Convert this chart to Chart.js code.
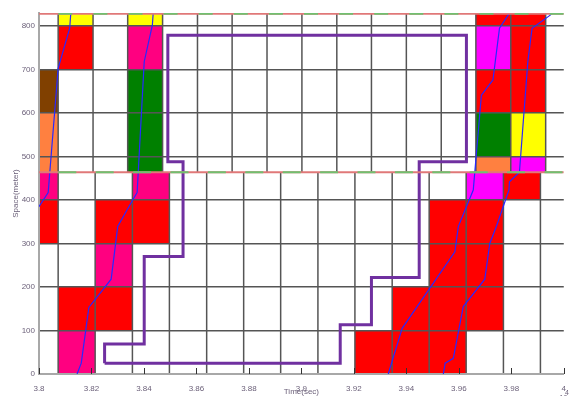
<!DOCTYPE html>
<html>
<head>
<meta charset="utf-8">
<script src="https://cdn.jsdelivr.net/npm/chart.js@4.4.0/dist/chart.umd.min.js"></script>
<style>
    html, body { margin: 0; padding: 0; background: #fff; }
    canvas { display: block; }
</style>
</head>
<body>
<canvas id="myChart" width="569" height="396"></canvas>
<script>
// axis ticks
const xTicks = [3.8, 3.82, 3.84, 3.86, 3.88, 3.9, 3.92, 3.94, 3.96, 3.98, 4.0];
const yTicks = [0, 100, 200, 300, 400, 500, 600, 700, 800];

// cell grid (x edges in x10^4 sec, y edges in meter)
const lowerCols = [3.8, 3.8073, 3.8214, 3.8356, 3.8497, 3.8639, 3.8780, 3.8921, 3.9063,
    3.9204, 3.9346, 3.9487, 3.9628, 3.9770, 3.9911, 4.0];
const upperCols = [3.8, 3.8073, 3.8206, 3.8338, 3.8471, 3.8604, 3.8736, 3.8869, 3.9002,
    3.9135, 3.9267, 3.9400, 3.9533, 3.9665, 3.9798, 3.9931, 4.0];
const lowerRows = [0, 100, 200, 300, 400, 464];
const upperRows = [464, 500, 600, 700, 800, 828];

// [column, row, state]
const lowerCells = [
    [0, 4, 'pink'], [3, 4, 'pink'],
    [0, 3, 'red'], [2, 3, 'red'], [3, 3, 'red'],
    [2, 2, 'pink'],
    [1, 1, 'red'], [2, 1, 'red'],
    [1, 0, 'pink'],
    [9, 0, 'red'], [10, 0, 'red'], [11, 0, 'red'],
    [10, 1, 'red'], [11, 1, 'red'], [12, 1, 'red'],
    [11, 2, 'red'], [12, 2, 'red'],
    [11, 3, 'red'], [12, 3, 'red'],
    [12, 4, 'magenta'], [13, 4, 'red']
];
const upperCells = [
    [1, 4, 'yellow'], [3, 4, 'yellow'],
    [1, 3, 'red'], [3, 3, 'pink'],
    [0, 2, 'brown'], [3, 2, 'green'],
    [0, 1, 'orange'], [3, 1, 'green'],
    [0, 0, 'orange'], [3, 0, 'green'],
    [13, 4, 'red'], [14, 4, 'red'],
    [13, 3, 'magenta'], [14, 3, 'red'],
    [13, 2, 'red'], [14, 2, 'red'],
    [13, 1, 'green'], [14, 1, 'yellow'],
    [13, 0, 'orange'], [14, 0, 'magenta']
];

// vehicle trajectories
const trajA = [[3.8145, 0], [3.8161, 25], [3.8190, 153], [3.8275, 218], [3.8300, 339], [3.8357, 400],
    [3.8374, 417], [3.8401, 718], [3.8432, 802], [3.8435, 828]];
const trajB = [[3.8, 385], [3.8035, 417], [3.8073, 703], [3.8117, 795], [3.8121, 828]];
const trajC = [[3.9331, 0], [3.9384, 105], [3.9585, 281], [3.9598, 339], [3.9655, 423],
    [3.9686, 641], [3.9730, 676], [3.9755, 795], [3.9791, 828]];
const trajD = [[3.9541, 0], [3.9548, 25], [3.9579, 36], [3.9617, 155], [3.9699, 218], [3.9718, 300],
    [3.9743, 339], [3.9791, 423], [3.9793, 442], [3.9831, 464], [3.9863, 718], [3.9879, 795], [3.9955, 828]];

// boundary (purple loop)
const loopX = [3.8250, 3.9148, 3.9148, 3.9267, 3.9267, 3.9449, 3.9449, 3.9629, 3.9629,
    3.8491, 3.8491, 3.8549, 3.8549, 3.8401, 3.8401, 3.8250, 3.8250];
const loopY = [25, 25, 113, 113, 222, 222, 488, 488, 779, 779, 488, 488, 270, 270, 69, 69, 25];

const topLine = 828;
const midLine = 464;

const cellColors = {
    red: '#ff0000', pink: '#ff0080', magenta: '#ff00ff', yellow: '#ffff00',
    green: '#008000', brown: '#804000', orange: '#ff8040'
};
const gridColor = '#555555';
const labelColor = '#6a5f78';
const labelFont = { family: "'Liberation Sans Narrow', 'Liberation Sans', Arial, sans-serif", size: 8, lineHeight: 1 };

function toPoints(arr) {
    return arr.map(p => ({ x: p[0], y: p[1] }));
}

function drawCells(ctx, x, y, cells, cols, rows) {
    cells.forEach(function (c) {
        const x0 = x.getPixelForValue(cols[c[0]]);
        const x1 = x.getPixelForValue(cols[c[0] + 1]);
        const y0 = y.getPixelForValue(rows[c[1]]);
        const y1 = y.getPixelForValue(rows[c[1] + 1]);
        ctx.fillStyle = cellColors[c[2]];
        ctx.fillRect(x0, y1, x1 - x0, y0 - y1);
    });
}

function drawColumnLines(ctx, x, y, cols, rows) {
    ctx.strokeStyle = gridColor;
    ctx.lineWidth = 1.5;
    const yb = y.getPixelForValue(rows[0]);
    const yt = y.getPixelForValue(rows[rows.length - 1]);
    for (let i = 1; i < cols.length - 1; i++) {
        const px = x.getPixelForValue(cols[i]);
        ctx.beginPath();
        ctx.moveTo(px, yb);
        ctx.lineTo(px, yt);
        ctx.stroke();
    }
}

const cellPlugin = {
    id: 'cells',
    beforeDraw(chart) {
        const { ctx, scales: { x, y } } = chart;
        ctx.save();
        drawCells(ctx, x, y, lowerCells, lowerCols, lowerRows);
        drawCells(ctx, x, y, upperCells, upperCols, upperRows);
        drawColumnLines(ctx, x, y, lowerCols, lowerRows);
        drawColumnLines(ctx, x, y, upperCols, upperRows);
        ctx.restore();
    },
    afterDraw(chart) {
        const { ctx, scales: { x, y } } = chart;
        ctx.save();
        // inner tick marks on the time axis
        ctx.strokeStyle = '#333';
        ctx.lineWidth = 1;
        const y0 = y.getPixelForValue(0);
        xTicks.forEach(function (v) {
            const px = Math.round(x.getPixelForValue(v)) + 0.5;
            ctx.beginPath();
            ctx.moveTo(px, y0);
            ctx.lineTo(px, y0 - 6);
            ctx.stroke();
        });
        // exponent label
        ctx.fillStyle = labelColor;
        ctx.font = "7px 'Liberation Sans Narrow', Arial, sans-serif";
        ctx.textBaseline = 'alphabetic';
        ctx.fillText('x10', 556, 400);
        ctx.fillText('4', 565, 395);
        ctx.restore();
    }
};

const lineDatasets = [
    { data: [{ x: 3.8, y: topLine }, { x: 4.0, y: topLine }], borderColor: '#e07878', borderWidth: 2, order: 1 },
    { data: [{ x: 3.8, y: topLine }, { x: 4.0, y: topLine }], borderColor: '#70c070', borderWidth: 2,
        borderDash: [14, 21.1], borderDashOffset: 15.8, order: 0 },
    { data: [{ x: 3.8, y: midLine }, { x: 4.0, y: midLine }], borderColor: '#e07878', borderWidth: 2, order: 1 },
    { data: [{ x: 3.8, y: midLine }, { x: 4.0, y: midLine }], borderColor: '#70c070', borderWidth: 2,
        borderDash: [18, 19.4], borderDashOffset: 18.1, order: 0 },
    { data: loopX.map((v, i) => ({ x: v, y: loopY[i] })), borderColor: '#7030a0', borderWidth: 3,
        borderJoinStyle: 'miter', order: 2 },
    { data: toPoints(trajA), borderColor: '#2828ff', borderWidth: 1.2, order: 3 },
    { data: toPoints(trajB), borderColor: '#2828ff', borderWidth: 1.2, order: 3 },
    { data: toPoints(trajC), borderColor: '#2828ff', borderWidth: 1.2, order: 3 },
    { data: toPoints(trajD), borderColor: '#2828ff', borderWidth: 1.2, order: 3 }
];

const ctx = document.getElementById('myChart');
const myChart = new Chart(ctx, {
    type: 'line',
    data: { datasets: lineDatasets },
    plugins: [cellPlugin],
    options: {
        responsive: false,
        animation: false,
        events: [],
        layout: { padding: { top: 13, right: 1, left: 0, bottom: 0 }, autoPadding: false },
        elements: { point: { radius: 0 }, line: { tension: 0, fill: false } },
        plugins: { legend: { display: false }, tooltip: { enabled: false } },
        scales: {
            x: {
                type: 'linear',
                min: 3.8,
                max: 4.0,
                afterBuildTicks: s => { s.ticks = xTicks.map(v => ({ value: v })); },
                afterFit: s => { s.height = 22; },
                ticks: {
                    color: labelColor, font: labelFont, padding: 3, maxRotation: 0, autoSkip: false,
                    callback: v => String(+v.toFixed(2))
                },
                grid: { display: false },
                border: { display: true, color: '#a8a8a8', width: 2 },
                title: { display: true, text: 'Time(sec)', color: labelColor, font: labelFont, padding: 0 }
            },
            y: {
                type: 'linear',
                min: 0,
                max: 830,
                afterBuildTicks: s => { s.ticks = yTicks.map(v => ({ value: v })); },
                afterFit: s => { s.width = 39; },
                ticks: { color: labelColor, font: labelFont, padding: 4 },
                grid: { color: gridColor, lineWidth: 1.5, drawTicks: false },
                border: { display: true, color: '#a8a8a8', width: 2 },
                title: { display: true, text: 'Space(meter)', color: labelColor, font: labelFont,
                    padding: { top: 12, bottom: 0 } }
            }
        }
    }
});
</script>
</body>
</html>
